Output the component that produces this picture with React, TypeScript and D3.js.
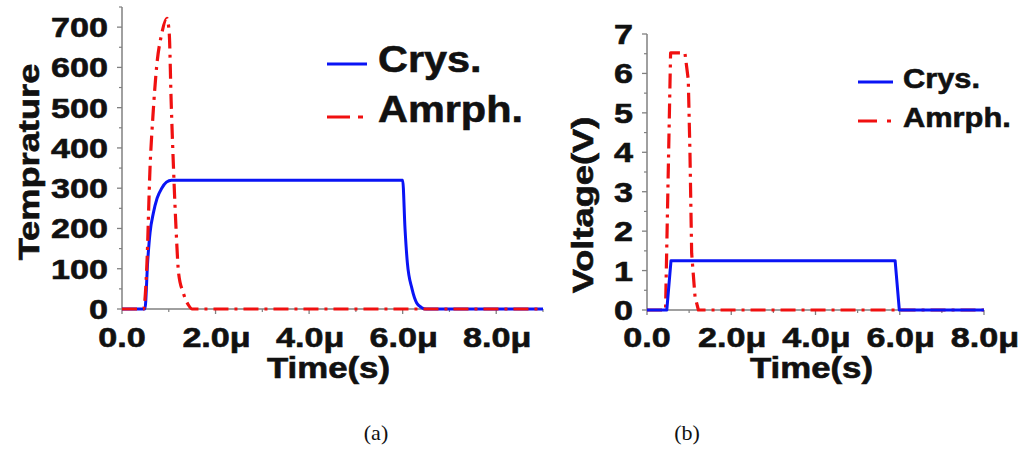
import React from 'react';
import * as d3 from 'd3';

// ---- data (time in µs) ----
const tempCrysT = [0, 0.49, 0.55, 0.6, 0.67, 0.75, 0.85, 0.95, 1.06, 6.0, 6.05, 6.1, 6.2, 6.3, 6.4, 6.5, 9.0];
const tempCrysV = [0, 0, 120, 190, 238, 275, 300, 315, 320, 320, 200, 115, 50, 15, 4, 0, 0];
const tempAmrT = [0, 0.46, 0.53, 0.6, 0.66, 0.74, 0.85, 0.96, 1.01, 1.05, 1.1, 1.16, 1.21, 1.31, 1.42, 1.5, 9.0];
const tempAmrV = [0, 0, 105, 353, 477, 601, 684, 722, 684, 519, 353, 188, 89, 40, 10, 0, 0];

const voltCrysT = [0, 0.47, 0.57, 5.89, 5.99, 8.0];
const voltCrysV = [0, 0, 1.25, 1.25, 0, 0];
const voltAmrT = [0, 0.44, 0.56, 0.9, 0.98, 1.02, 1.06, 1.14, 1.22, 8.0];
const voltAmrV = [0, 0, 6.52, 6.52, 5.84, 3.98, 1.44, 0.34, 0, 0];

const xTickVals = [0, 2, 4, 6, 8];
const xTickLabels = ['0.0', '2.0\u03bc', '4.0\u03bc', '6.0\u03bc', '8.0\u03bc'];
const tempTicks = [0, 100, 200, 300, 400, 500, 600, 700];
const voltTicks = [0, 1, 2, 3, 4, 5, 6, 7];
const seriesNames = ['Crys.', 'Amrph.'];

const BLUE = '#0a14f5';
const RED = '#f01010';
const AXIS = '#808080';
const FONT = "'Liberation Sans', Arial, sans-serif";

const zip = (t, v) => t.map((d, i) => [d, v[i]]);

function Txt({ x, y, children, size, sx = 1, anchor = 'start', rot = 0, weight = 'bold', family = FONT }) {
  const bold = weight === 'bold';
  return (
    <text
      transform={`translate(${x},${y}) rotate(${rot}) scale(${sx},1)`}
      textAnchor={anchor}
      fontSize={size}
      fontWeight={weight}
      fontFamily={family}
      fill="#111"
      stroke={bold ? '#111' : 'none'}
      strokeWidth={bold ? 0.6 : 0}
    >
      {children}
    </text>
  );
}

function Panel({ box, xMax, yMax, yTicks, yMinor, crys, amr, curve, redOnTop, yTitle, yTitleX, yTitleY, legend, caption }) {
  const x = d3.scaleLinear().domain([0, xMax]).range([box.left, box.right]);
  const y = d3.scaleLinear().domain([0, yMax]).range([box.bottom, box.top]);
  const line = d3.line().curve(curve).x(d => x(d[0])).y(d => y(d[1]));

  const xMinor = d3.range(1, xMax + 0.01, 2).filter(v => v <= xMax);
  const blue = <path d={line(crys)} fill="none" stroke={BLUE} strokeWidth={3} strokeLinejoin="round" />;
  const red = (
    <path d={line(amr)} fill="none" stroke={RED} strokeWidth={3.2} strokeDasharray="15,6,3,6" strokeLinejoin="round" />
  );

  return (
    <g>
      {/* axes */}
      <line x1={box.left} x2={box.left} y1={box.top} y2={box.bottom} stroke={AXIS} strokeWidth={1.5} />
      <line x1={box.left} x2={box.right} y1={box.bottom} y2={box.bottom} stroke={AXIS} strokeWidth={1.5} />
      {yTicks.map(v => (
        <line key={'ym' + v} x1={box.left - 5} x2={box.left} y1={y(v)} y2={y(v)} stroke={AXIS} strokeWidth={1.3} />
      ))}
      {yMinor.map(v => (
        <line key={'yn' + v} x1={box.left - 3} x2={box.left} y1={y(v)} y2={y(v)} stroke={AXIS} strokeWidth={1.2} />
      ))}
      {xTickVals.map(v => (
        <line key={'xm' + v} x1={x(v)} x2={x(v)} y1={box.bottom} y2={box.bottom + 5} stroke={AXIS} strokeWidth={1.3} />
      ))}
      {xMinor.map(v => (
        <line key={'xn' + v} x1={x(v)} x2={x(v)} y1={box.bottom} y2={box.bottom + 3} stroke={AXIS} strokeWidth={1.2} />
      ))}

      {/* series */}
      {redOnTop ? <>{blue}{red}</> : <>{red}{blue}</>}

      {/* tick labels */}
      {yTicks.map(v => (
        <Txt key={'yl' + v} x={box.left - 14} y={y(v) + 10} size={28} sx={1.22} anchor="end">{String(v)}</Txt>
      ))}
      {xTickVals.map((v, i) => (
        <Txt key={'xl' + v} x={x(v) + (i === 0 ? 0 : 1)} y={347} size={28} sx={1.22} anchor="middle">{xTickLabels[i]}</Txt>
      ))}

      {/* axis titles */}
      <Txt x={(box.left + box.right) / 2 - 4} y={378} size={29} sx={1.2} anchor="middle">Time(s)</Txt>
      <Txt x={yTitleX} y={yTitleY} size={29} sx={1.25} anchor="middle" rot={-90}>{yTitle}</Txt>

      {/* legend */}
      <line x1={legend.x0} x2={legend.x1} y1={legend.y1} y2={legend.y1} stroke={BLUE} strokeWidth={3} />
      <line x1={legend.x0} x2={legend.x1} y1={legend.y2} y2={legend.y2} stroke={RED} strokeWidth={3.2} strokeDasharray={legend.dash} />
      <Txt x={legend.tx} y={legend.b1} size={legend.size} sx={legend.sx}>{seriesNames[0]}</Txt>
      <Txt x={legend.tx} y={legend.b2} size={legend.size} sx={legend.sx}>{seriesNames[1]}</Txt>

      <Txt x={caption.x} y={caption.y} size={22} anchor="middle" weight="normal" family="'Liberation Serif', 'Times New Roman', serif">
        {caption.text}
      </Txt>
    </g>
  );
}

export default function App() {
  return (
    <svg
      width={1020}
      height={449}
      viewBox="0 0 1020 449"
      style={{ position: 'absolute', left: 0, top: 0, background: '#fff', display: 'block' }}
    >
      <rect width={1020} height={449} fill="#fff" />
      <Panel
        box={{ left: 122, right: 543, top: 7, bottom: 309 }}
        xMax={9}
        yMax={750}
        yTicks={tempTicks}
        yMinor={d3.range(50, 751, 100)}
        crys={zip(tempCrysT, tempCrysV)}
        amr={zip(tempAmrT, tempAmrV)}
        curve={d3.curveMonotoneX}
        redOnTop={true}
        yTitle="Temprature"
        yTitleX={39}
        yTitleY={162}
        legend={{ x0: 327, x1: 367, y1: 64, y2: 117, tx: 378, b1: 72, b2: 122, size: 37, sx: 1.12, dash: '23,8,5,20' }}
        caption={{ x: 376, y: 440, text: '(a)' }}
      />
      <Panel
        box={{ left: 647, right: 984, top: 34, bottom: 310 }}
        xMax={8}
        yMax={7}
        yTicks={voltTicks}
        yMinor={d3.range(0.5, 7, 1)}
        crys={zip(voltCrysT, voltCrysV)}
        amr={zip(voltAmrT, voltAmrV)}
        curve={d3.curveLinear}
        redOnTop={false}
        yTitle="Voltage(V)"
        yTitleX={593}
        yTitleY={205}
        legend={{ x0: 858, x1: 893, y1: 82, y2: 121, tx: 903, b1: 88, b2: 127, size: 28, sx: 1.1, dash: '19,10,4,20' }}
        caption={{ x: 687, y: 440, text: '(b)' }}
      />
    </svg>
  );
}
